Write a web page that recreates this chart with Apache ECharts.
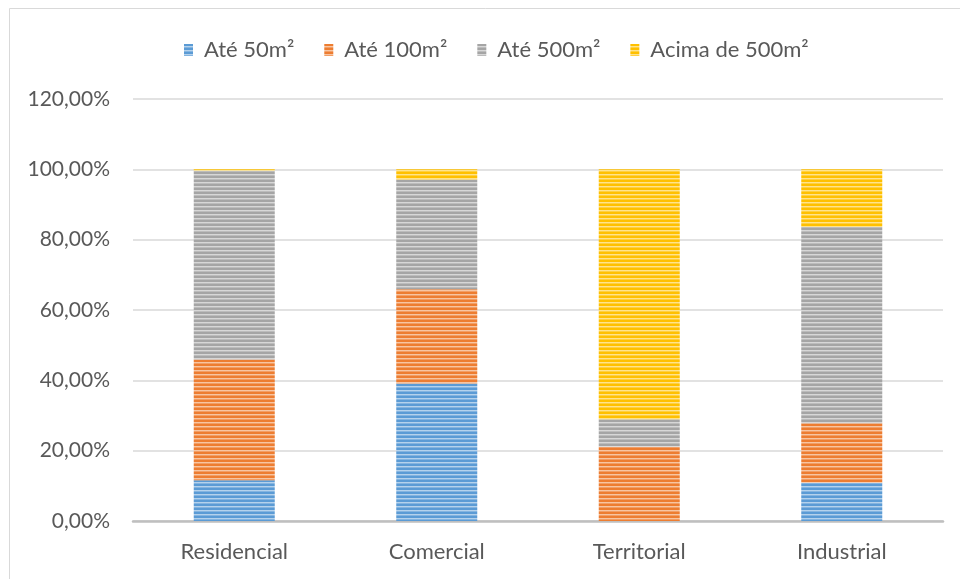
<!DOCTYPE html>
<html>
<head>
<meta charset="utf-8">
<script src="https://cdn.jsdelivr.net/npm/echarts@6/dist/echarts.min.js"></script>
<style>
html,body{margin:0;padding:0;background:#fff;}
#chart{width:960px;height:579px;}
</style>
</head>
<body>
<div id="chart"></div>
<script>
const categories = ['Residencial', 'Comercial', 'Territorial', 'Industrial'];
const seriesNames = ['Até 50m²', 'Até 100m²', 'Até 500m²', 'Acima de 500m²'];
const ate50 = [11.6, 39.1, 0, 10.9];
const ate100 = [34.3, 26.8, 21.1, 16.9];
const ate500 = [53.7, 31.2, 7.8, 55.8];
const acima500 = [0.4, 2.9, 71.1, 16.4];
const yTicks = [0, 20, 40, 60, 80, 100, 120];

const baseColors = ['#5b9bd5', '#ed7d31', '#a5a5a5', '#ffc000'];

function mix(hex, t) {
  const r = parseInt(hex.slice(1,3),16), g = parseInt(hex.slice(3,5),16), b = parseInt(hex.slice(5,7),16);
  const f = c => Math.round(c + (255 - c) * t);
  return 'rgb(' + f(r) + ',' + f(g) + ',' + f(b) + ')';
}
function stripe(hex) {
  const c = document.createElement('canvas');
  c.width = 8; c.height = 4;
  const ctx = c.getContext('2d');
  ctx.fillStyle = hex; ctx.fillRect(0, 0, 8, 4);
  ctx.fillStyle = mix(hex, 0.55); ctx.fillRect(0, 2, 8, 1);
  ctx.fillStyle = mix(hex, 0.25); ctx.fillRect(0, 3, 8, 1);
  return { image: c, repeat: 'repeat' };
}

const dataSets = [ate50, ate100, ate500, acima500];
const chart = echarts.init(document.getElementById('chart'), null, { renderer: 'canvas' });
const font = 'Lato, "Open Sans", sans-serif';

chart.setOption({
  animation: false,
  backgroundColor: '#fff',
  graphic: [{
    type: 'rect', silent: true,
    shape: { x: 9.5, y: 8.5, width: 960, height: 620 },
    style: { fill: 'none', stroke: '#d9d9d9', lineWidth: 1 }
  }],
  legend: {
    top: 34, left: 179,
    icon: 'rect',
    itemWidth: 9, itemHeight: 12, itemGap: 30,
    textStyle: { color: '#595959', fontSize: 22, fontFamily: font, padding: [0, 0, 0, 6] },
    data: seriesNames
  },
  grid: { left: 133, right: 17, top: 99, bottom: 58, containLabel: false },
  xAxis: {
    type: 'category', data: categories,
    axisLine: { lineStyle: { color: '#bfbfbf', width: 2.5 } },
    axisTick: { show: false },
    axisLabel: { color: '#595959', fontSize: 22, fontFamily: font, margin: 20 }
  },
  yAxis: {
    type: 'value', min: 0, max: 120, interval: 20,
    axisLine: { show: false }, axisTick: { show: false },
    splitLine: { lineStyle: { color: '#d9d9d9', width: 1.5 } },
    axisLabel: {
      color: '#595959', fontSize: 21, fontFamily: font, margin: 23,
      formatter: v => v.toFixed(2).replace('.', ',') + '%'
    }
  },
  series: dataSets.map((d, i) => ({
    name: seriesNames[i], type: 'bar', stack: 'total',
    barWidth: '40%',
    data: d,
    itemStyle: { color: stripe(baseColors[i]) }
  }))
});
</script>
</body>
</html>
